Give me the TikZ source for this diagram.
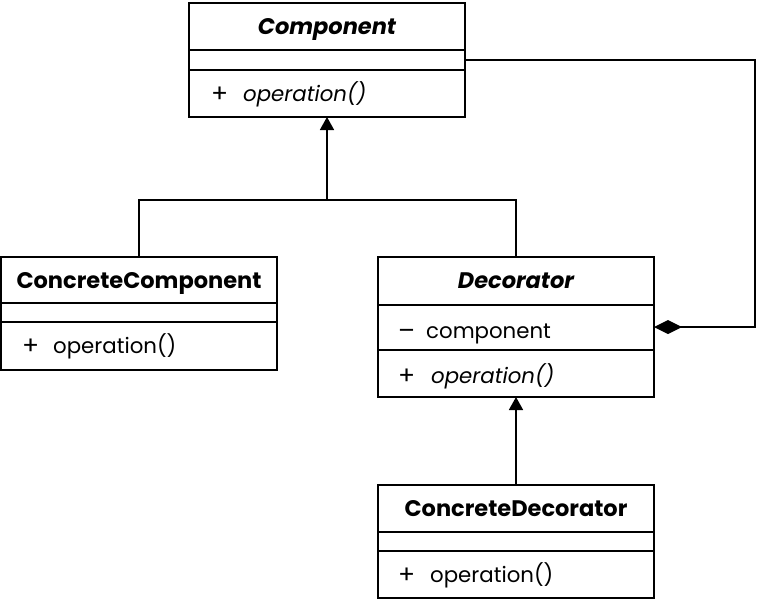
\documentclass[tikz,border=0pt]{standalone}
\usepackage{fontspec}
\setmainfont{Poppins}
\usetikzlibrary{arrows.meta}
\begin{document}
\begin{tikzpicture}[x=1pt,y=-1pt,
  cls/.style={draw,line width=1.6pt,minimum width=#1,inner sep=0pt,outer sep=0pt,anchor=north west},
  div/.style={line width=1.6pt},
  conn/.style={line width=1.6pt},
  ttl/.style={font=\fontsize{22.5}{22.5}\selectfont\bfseries,anchor=base,inner sep=0pt},
  txt/.style={font=\fontsize{21.3}{21.3}\selectfont,anchor=base west,inner sep=0pt},
  sym/.style={font=\fontsize{25}{25}\selectfont,anchor=base west,inner sep=0pt},
  inh/.style={conn,-{Triangle[width=14pt,length=13pt]}},
  comp/.style={conn,{Diamond[width=14pt,length=28pt]}-}
]
\useasboundingbox (0,0) rectangle (760,600);
% Component
\node[cls=276pt,minimum height=114pt] (comp) at (189,3) {};
\draw[div] (189,50) -- (465,50) (189,70) -- (465,70);
\node[ttl] (compT) at (327,34) {\itshape Component};
\node[sym] (compP) at (211,102) {+};
\node[txt] (compO) at (243,101) {\itshape operation()};
% ConcreteComponent
\node[cls=276pt,minimum height=113pt] (cc) at (1,257) {};
\draw[div] (1,303) -- (277,303) (1,322) -- (277,322);
\node[ttl] (ccT) at (139,288) {ConcreteComponent};
\node[sym] (ccP) at (22,354) {+};
\node[txt] (ccO) at (53,353) {operation()};
% Decorator
\node[cls=276pt,minimum height=140pt] (dec) at (378,257) {};
\draw[div] (378,305) -- (654,305) (378,350) -- (654,350);
\node[ttl] (decT) at (516,288) {\itshape Decorator};
\node[sym] (decM) at (398,339) {–};
\node[txt] (decA) at (426,338) {component};
\node[sym] (decP) at (398,384) {+};
\node[txt] (decO) at (431,383) {\itshape operation()};
% ConcreteDecorator
\node[cls=276pt,minimum height=113pt] (cd) at (378,485) {};
\draw[div] (378,532) -- (654,532) (378,551) -- (654,551);
\node[ttl] (cdT) at (516,516) {ConcreteDecorator};
\node[sym] (cdP) at (398,583) {+};
\node[txt] (cdO) at (430,582) {operation()};
% connectors
\coordinate (j) at (327,200);
\draw[conn] (cc.north) |- (j);
\draw[conn] (dec.north) |- (j);
\draw[inh] (j) -- (comp.south);
\draw[inh] (cd.north) -- (dec.south);
\draw[comp] (dec.east) -- ++(101,0) |- (comp.east);
\end{tikzpicture}
\end{document}
